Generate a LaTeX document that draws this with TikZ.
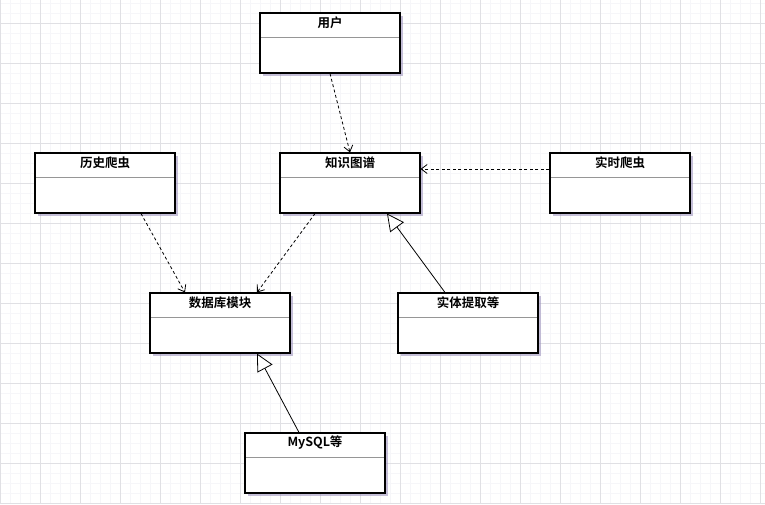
\documentclass[tikz,border=0pt]{standalone}
\usepackage{fontspec}
\setmainfont{Noto Sans CJK SC}[BoldFont={* Bold}]
\usetikzlibrary{arrows.meta,shadows}
\definecolor{minorgrid}{RGB}{246,246,249}
\definecolor{majorgrid}{RGB}{224,224,228}
\definecolor{sepgray}{RGB}{150,150,150}
\definecolor{shadowcol}{RGB}{150,140,185}
\tikzset{
  umlbox/.style={draw=black, line width=1.1pt, fill=white,
    minimum width=140pt, minimum height=60pt, inner sep=0pt,
    drop shadow={shadow xshift=3pt, shadow yshift=-3pt, fill=shadowcol, opacity=0.55},
    path picture={\draw[sepgray, line width=1pt]
      ([yshift=-24pt]path picture bounding box.north west) --
      ([yshift=-24pt]path picture bounding box.north east);},
    label={[anchor=center, yshift=-10pt, font=\fontsize{12.5}{14}\selectfont\bfseries]north:#1}},
  depline/.style={line width=0.8pt, dash pattern=on 3pt off 2.5pt,
    -{Straight Barb[length=6pt,width=9pt,line width=0.8pt]}},
  genline/.style={line width=0.8pt,
    -{Triangle[open, length=17pt, width=17pt, fill=white, line width=0.8pt]}}
}
\begin{document}
\begin{tikzpicture}[x=1pt,y=-1pt]
\useasboundingbox (0,0) rectangle (765,504);
\fill[white] (0,0) rectangle (765,504);
\foreach \x in {0,10,...,760} \draw[minorgrid, line width=1pt] (\x,0) -- (\x,504);
\foreach \y in {3,13,...,503} \draw[minorgrid, line width=1pt] (0,\y) -- (765,\y);
\foreach \x in {0.5,40.5,...,760.5} \draw[majorgrid, line width=0.8pt] (\x,0) -- (\x,504);
\foreach \y in {23,63,...,503} \draw[majorgrid, line width=0.8pt] (0,\y) -- (765,\y);

\node[umlbox={用户}] (user) at (330,43) {};
\node[umlbox={知识图谱}] (kg) at (350,183) {};
\node[umlbox={历史爬虫}] (hist) at (105,183) {};
\node[umlbox={实时爬虫}] (rt) at (620,183) {};
\node[umlbox={数据库模块}] (db) at (220,323) {};
\node[umlbox={实体提取等}] (ent) at (468,323) {};
\node[umlbox={MySQL等}] (mysql) at (315,463) {};

\draw[depline] (user.south) -- (kg.north);
\draw[depline] ([yshift=14pt]rt.west) -- ([yshift=14pt]kg.east);
\draw[depline] ([xshift=36pt]hist.south) -- ([xshift=-35pt]db.north);
\draw[depline] ([xshift=-35pt]kg.south) -- ([xshift=37pt]db.north);
\draw[genline] ([xshift=-23pt]ent.north) -- ([xshift=37pt]kg.south);
\draw[genline] ([xshift=-16pt]mysql.north) -- ([xshift=37pt]db.south);
\end{tikzpicture}
\end{document}
